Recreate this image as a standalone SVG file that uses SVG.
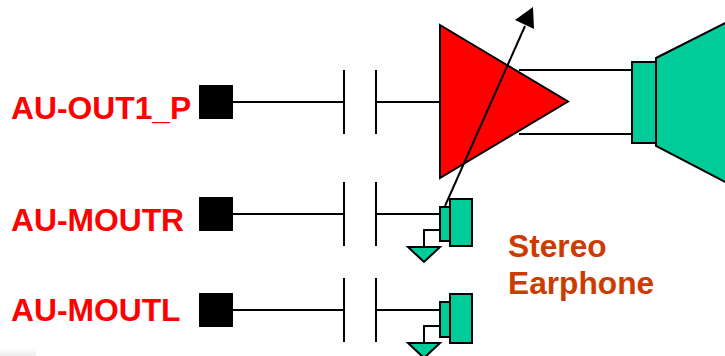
<svg xmlns="http://www.w3.org/2000/svg" width="725" height="356" viewBox="0 0 725 356">
<style>
.w{fill:none;stroke:#000;stroke-width:2}
.g{fill:#00cc99;stroke:#000;stroke-width:2}
.p{fill:#000}
.l{font-family:"Liberation Sans",Arial,sans-serif;font-weight:700;font-size:31.800px;fill:#f00}
.s{font-family:"Liberation Sans",Arial,sans-serif;font-weight:700;font-size:31.700px;fill:#cc3c00}
</style>
<defs>
<linearGradient id="fade" x1="0" y1="0" x2="0" y2="1"><stop offset="0" stop-color="#eee" stop-opacity="0"/><stop offset="1" stop-color="#ececec"/></linearGradient>
</defs>
<rect width="725" height="356" fill="#fff"/>
<rect x="0" y="348" width="36" height="8" fill="url(#fade)"/>
<g id="connectors">
<path class="w" d="M233 102H344M344 70V134M376 70V134M376 102H440"/>
<path class="w" d="M231 214H344M344 182V246M376 182V246M376 214H440"/>
<path class="w" d="M231 310H344M344 278V342M376 278V342M376 310H440"/>
<path class="w" d="M519 70H632M519 134H632"/>
<path class="w" d="M440 230H424V247M440 326H424V343"/>
</g>
<g id="label-out1"><text class="l" x="11" y="118.500">AU-OUT1_P</text></g>
<g id="label-moutr"><text class="l" x="11" y="230.500">AU-MOUTR</text></g>
<g id="label-moutl"><text class="l" x="11" y="320.500">AU-MOUTL</text></g>
<g id="label-stereo"><text class="s" x="508" y="256.500">Stereo</text><text class="s" x="508" y="293.500">Earphone</text></g>
<g id="pin-out1"><rect class="p" x="199" y="85" width="34" height="34"/></g>
<g id="pin-moutr"><rect class="p" x="199" y="197" width="34" height="34"/></g>
<g id="pin-moutl"><rect class="p" x="199" y="293" width="34" height="34"/></g>
<g id="amp"><path d="M440 25L568 101.500L440 178Z" fill="#f00" stroke="#000" stroke-width="2"/></g>
<g id="speaker">
<rect class="g" x="632" y="62" width="24" height="81"/>
<path class="g" d="M656 58L727 22V183L656 146Z"/>
</g>
<g id="earphone-r">
<rect class="g" x="440" y="207" width="10" height="34"/>
<rect class="g" x="450" y="199" width="22" height="47"/>
<path class="g" d="M408 247H440L424 262Z"/>
</g>
<g id="earphone-l">
<rect class="g" x="440" y="302" width="10" height="35"/>
<rect class="g" x="450" y="294" width="22" height="49"/>
<path class="g" d="M408 343H440L424 358Z"/>
</g>
<g id="gain-arrow">
<path class="w" d="M445 206L525 26"/>
<path class="p" d="M533 7L534 29L515 20Z"/>
</g>
</svg>
